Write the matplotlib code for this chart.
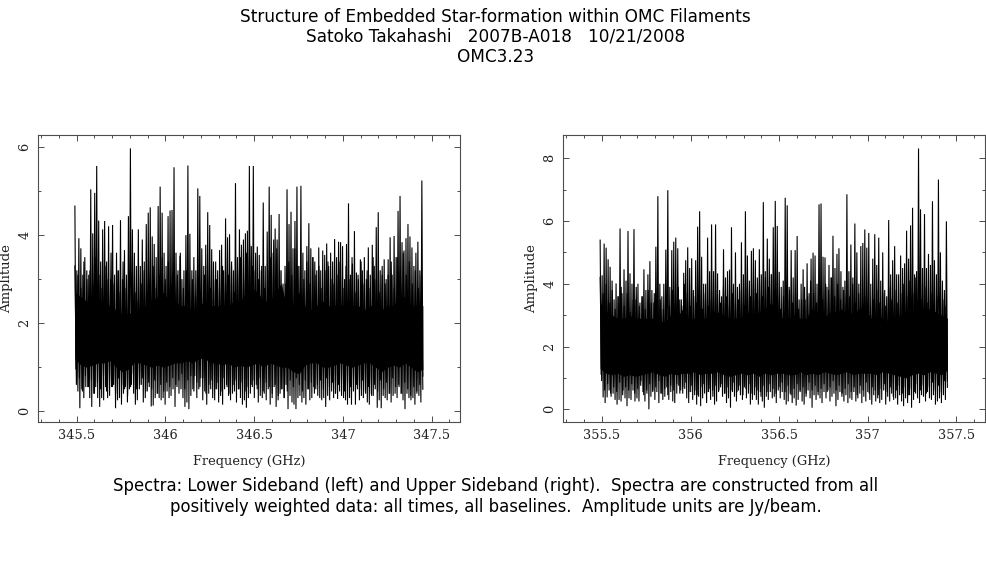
#!/usr/bin/env python
"""LSB and USB amplitude spectra for OMC3.23, read off the archived plot."""
import matplotlib
matplotlib.use("Agg")
import matplotlib.pyplot as plt
from matplotlib.ticker import MultipleLocator, FixedLocator, FixedFormatter
import numpy as np

W, H = 987, 567

title_lines = [
    "Structure of Embedded Star-formation within OMC Filaments",
    "Satoko Takahashi   2007B-A018   10/21/2008",
    "OMC3.23",
]
caption_lines = [
    "Spectra: Lower Sideband (left) and Upper Sideband (right).  Spectra are constructed from all",
    "positively weighted data: all times, all baselines.  Amplitude units are Jy/beam.",
]

# alternating channel peaks and troughs, read every ~2 px
lsb_hi = [
    4.66, 3.2, 3.93, 3.7, 3.1, 3.5, 3.2, 3.1, 5.04, 4.04, 4.96, 5.57, 4.33, 3.4, 4.13, 4.32,
    3.4, 4.2, 3.0, 4.23, 3.1, 3.6, 3.2, 4.34, 3.0, 3.66, 3.1, 4.43, 5.97, 4.13, 3.6, 3.3,
    4.13, 3.3, 3.9, 3.4, 4.25, 4.51, 4.63, 3.97, 3.8, 3.5, 4.66, 5.1, 4.51, 3.6, 3.3, 4.43,
    4.56, 4.57, 5.54, 3.6, 3.2, 3.53, 3.0, 3.2, 4.0, 5.58, 4.03, 3.2, 3.5, 3.2, 5.06, 4.89,
    3.7, 3.3, 3.78, 4.52, 4.23, 3.68, 3.0, 3.4, 3.2, 3.66, 3.78, 3.2, 4.38, 3.95, 4.02, 3.3,
    3.2, 5.18, 3.5, 4.13, 3.78, 3.9, 4.04, 4.1, 5.57, 3.75, 5.57, 3.2, 3.74, 3.55, 3.2, 4.74,
    3.3, 4.08, 5.1, 4.46, 3.6, 4.15, 3.9, 4.48, 3.2, 2.9, 3.3, 5.04, 4.25, 4.53, 3.7, 4.32,
    5.1, 3.3, 5.12, 3.6, 3.2, 3.75, 4.27, 3.7, 3.5, 3.4, 3.2, 3.72, 3.2, 3.65, 3.55, 3.81,
    3.3, 3.6, 3.4, 3.91, 3.5, 3.85, 3.84, 3.75, 3.0, 3.8, 4.72, 3.1, 3.35, 4.09, 3.15, 3.0,
    3.45, 3.2, 3.5, 3.0, 3.72, 3.1, 3.78, 3.3, 4.18, 4.52, 3.2, 3.1, 3.45, 3.0, 3.45, 3.95,
    3.1, 3.98, 3.5, 4.55, 4.89, 3.84, 3.65, 3.93, 4.25, 3.97, 3.72, 3.3, 3.6, 3.85, 3.2, 5.24,
]
lsb_lo = [
    0.95, 0.45, 0.07, 0.5, 0.3, 0.55, 0.55, 0.3, 0.1, 0.4, 0.55, 0.3, 0.1, 0.3, 0.25, 0.55,
    0.3, 0.35, 0.55, 0.6, 0.07, 0.25, 0.3, 0.15, 0.4, 0.55, 0.2, 0.5, 0.6, 0.85, 0.15, 0.25,
    0.5, 0.6, 0.2, 0.3, 0.45, 0.55, 0.11, 0.13, 0.3, 0.4, 0.3, 0.25, 0.3, 0.15, 0.45, 0.3,
    0.35, 0.5, 0.1, 0.55, 0.4, 0.5, 0.3, 0.1, 0.2, 0.05, 0.35, 0.5, 0.8, 0.3, 0.5, 0.75,
    0.25, 0.45, 0.15, 0.4, 0.5, 0.3, 0.25, 0.5, 0.2, 0.35, 0.15, 0.5, 0.6, 0.35, 0.25, 0.4,
    0.45, 0.2, 0.5, 0.3, 0.15, 0.25, 0.08, 0.3, 0.4, 0.55, 0.3, 0.6, 0.2, 0.35, 0.3, 0.4,
    0.25, 0.5, 0.15, 0.3, 0.55, 0.1, 0.25, 0.4, 0.5, 0.3, 0.6, 0.05, 0.35, 0.2, 0.15, 0.05,
    0.3, 0.35, 0.2, 0.3, 0.15, 0.5, 0.25, 0.3, 0.55, 0.5, 0.35, 0.3, 0.25, 0.3, 0.1, 0.35,
    0.25, 0.45, 0.3, 0.4, 0.28, 0.45, 0.35, 0.3, 0.25, 0.15, 0.3, 0.15, 0.45, 0.15, 0.5, 0.25,
    0.35, 0.3, 0.45, 0.2, 0.15, 0.4, 0.35, 0.5, 0.08, 0.25, 0.07, 0.35, 0.3, 0.25, 0.4, 0.2,
    0.35, 0.4, 0.3, 0.55, 0.4, 0.25, 0.05, 0.4, 0.3, 0.25, 0.3, 0.15, 0.4, 0.35, 0.2, 0.8,
]
usb_hi = [
    5.39, 4.27, 5.28, 5.15, 4.78, 4.54, 4.1, 3.5, 4.01, 3.6, 5.76, 3.7, 4.46, 4.1, 5.68, 4.33,
    4.0, 5.74, 3.5, 4.0, 3.4, 3.6, 4.46, 3.8, 4.3, 4.72, 3.8, 3.4, 5.18, 6.79, 4.0, 3.6,
    4.0, 5.09, 6.98, 3.9, 5.07, 5.34, 5.47, 5.13, 3.5, 3.3, 4.35, 4.75, 5.16, 4.5, 4.81, 3.6,
    4.75, 5.82, 6.31, 4.86, 4.0, 4.0, 5.47, 4.4, 5.89, 4.4, 5.89, 4.33, 3.8, 3.6, 5.1, 4.2,
    4.4, 4.45, 5.8, 4.0, 5.0, 3.9, 4.0, 5.32, 4.3, 6.31, 4.9, 4.1, 5.05, 5.13, 4.75, 4.2,
    5.1, 4.3, 6.6, 4.4, 5.44, 4.8, 4.3, 5.8, 6.64, 5.84, 4.38, 3.9, 4.1, 6.74, 6.5, 3.9,
    5.07, 4.2, 5.07, 5.52, 3.5, 4.0, 4.46, 3.5, 4.65, 3.7, 4.8, 4.99, 4.9, 4.0, 6.53, 6.56,
    4.86, 4.84, 3.9, 4.6, 4.2, 5.53, 4.5, 4.95, 5.13, 4.4, 3.9, 4.1, 6.85, 4.4, 5.25, 4.2,
    5.92, 5.0, 4.0, 5.2, 5.3, 5.73, 5.15, 5.62, 4.0, 4.8, 5.58, 4.6, 5.47, 4.1, 5.0, 3.8,
    3.6, 6.03, 4.3, 4.75, 5.2, 4.3, 4.3, 4.9, 4.5, 4.65, 5.69, 4.8, 5.86, 6.42, 4.3, 4.4,
    8.31, 6.37, 4.5, 6.22, 4.5, 4.95, 4.6, 6.63, 4.75, 4.3, 7.32, 5.0, 4.1, 3.8, 5.99,
]
usb_lo = [
    1.1, 0.38, 0.2, 0.38, 0.6, 0.4, 0.5, 0.3, 0.15, 0.3, 0.25, 0.6, 0.35, 0.1, 0.35, 0.3,
    0.6, 0.25, 0.35, 0.25, 0.9, 0.55, 0.25, 0.5, 0.0, 0.4, 0.6, 0.3, 0.55, 0.2, 0.5, 0.3,
    0.4, 0.7, 0.3, 0.55, 0.25, 0.2, 0.5, 0.75, 0.6, 0.5, 0.65, 0.35, 0.2, 0.55, 0.3, 0.45,
    0.15, 0.4, 0.1, 0.35, 0.5, 0.2, 0.55, 0.3, 0.6, 0.15, 0.25, 0.55, 0.7, 0.4, 0.5, 0.2,
    0.35, 0.05, 0.55, 0.4, 0.25, 0.6, 0.45, 0.3, 0.7, 0.35, 0.5, 0.15, 0.3, 0.45, 0.3, 0.15,
    0.55, 0.25, 0.05, 0.4, 0.3, 0.55, 0.35, 0.4, 0.2, 0.6, 0.35, 0.55, 0.3, 0.15, 0.25, 0.5,
    0.2, 0.35, 0.12, 0.3, 0.55, 0.25, 0.15, 0.4, 0.6, 0.35, 0.05, 0.45, 0.3, 0.55, 0.35, 0.2,
    0.55, 0.35, 0.6, 0.25, 0.4, 0.5, 0.1, 0.3, 0.55, 0.4, 0.25, 0.45, 0.2, 0.35, 0.3, 0.55,
    0.25, 0.35, 0.5, 0.2, 0.4, 0.25, 0.55, 0.3, 0.15, 0.45, 0.25, 0.35, 0.2, 0.3, 0.6, 0.15,
    0.4, 0.25, 0.5, 0.3, 0.35, 0.15, 0.45, 0.25, 0.1, 0.35, 0.2, 0.45, 0.05, 0.3, 0.5, 0.35,
    0.2, 0.45, 0.4, 0.25, 0.55, 0.35, 0.3, 0.45, 0.15, 0.25, 0.35, 0.2, 0.45, 0.3, 0.9,
]

# secondary channels below the spikes, read every ~3 px
lsb_mid_hi = [
    3.3, 3.1, 2.8, 3.4, 3.0, 3.2, 2.9, 3.5, 3.1, 2.8, 3.3, 3.0, 3.6, 2.9, 3.2, 2.7, 3.4, 2.8, 2.6, 3.0,
    2.7, 2.5, 2.9, 3.2, 2.6, 3.0, 3.3, 2.8, 3.1, 3.5, 3.0, 3.4, 2.9, 3.3, 3.1, 3.6, 2.8, 3.2, 2.7, 3.0,
    2.6, 2.9, 2.7, 3.1, 3.3, 2.8, 3.4, 3.0, 2.8, 3.3, 2.9, 3.1, 3.4, 2.7, 3.2, 3.5, 3.0, 3.6, 3.8, 3.3,
    3.6, 3.0, 3.3, 2.8, 3.2, 3.5, 3.9, 3.7, 3.2, 2.6, 2.9, 3.4, 3.1, 3.7, 3.3, 2.8, 3.0, 3.4, 2.9, 3.5,
    3.1, 3.3, 2.8, 3.2, 3.4, 3.0, 2.9, 3.1, 3.4, 2.8, 3.3, 3.0, 3.5, 2.7, 3.1, 3.4, 2.9, 3.2, 2.8, 3.5,
    3.0, 2.7, 3.3, 2.9, 3.1, 3.4, 2.8, 3.5, 3.2, 3.6, 3.1, 3.4, 2.9, 3.2, 2.8, 3.1,
]
lsb_mid_lo = [
    0.6, 0.75, 0.45, 0.8, 0.55, 0.7, 0.4, 0.65, 0.5, 0.8, 0.45, 0.7, 0.55, 0.4, 0.75, 0.6, 0.5, 0.35, 0.55, 0.4,
    0.5, 0.6, 0.75, 0.45, 0.65, 0.5, 0.7, 0.4, 0.6, 0.45, 0.65, 0.55, 0.75, 0.6, 0.7, 0.85, 0.5, 0.7, 0.8, 0.45,
    0.65, 0.55, 0.75, 0.4, 0.6, 0.7, 0.5, 0.65, 0.45, 0.75, 0.55, 0.4, 0.6, 0.7, 0.5, 0.65, 0.45, 0.55, 0.6, 0.7,
    0.5, 0.75, 0.45, 0.65, 0.55, 0.4, 0.6, 0.35, 0.5, 0.3, 0.45, 0.7, 0.55, 0.75, 0.6, 0.45, 0.7, 0.5, 0.65, 0.4,
    0.6, 0.7, 0.5, 0.75, 0.55, 0.65, 0.4, 0.6, 0.7, 0.45, 0.65, 0.55, 0.75, 0.6, 0.5, 0.7, 0.4, 0.55, 0.35, 0.6,
    0.45, 0.7, 0.5, 0.65, 0.4, 0.75, 0.55, 0.6, 0.4, 0.65, 0.5, 0.35, 0.55, 0.45, 0.6, 0.5,
]
usb_mid_hi = [
    4.2, 3.7, 4.0, 3.4, 3.8, 3.2, 3.6, 3.9, 3.3, 3.7, 3.1, 3.5, 3.9, 3.3, 3.6, 3.2, 3.8, 3.4, 3.7, 3.1,
    3.5, 3.2, 3.6, 3.3, 3.8, 3.4, 3.9, 3.5, 4.0, 3.7, 3.3, 3.8, 3.4, 3.6, 3.2, 3.7, 3.3, 3.5, 3.1, 3.8,
    3.4, 3.9, 3.6, 3.3, 3.7, 3.4, 3.5, 3.8, 3.3, 3.9, 3.6, 4.0, 3.7, 4.1, 3.6, 4.2, 3.9, 4.3, 3.8, 3.5,
    3.2, 3.6, 3.3, 3.8, 3.4, 3.7, 3.2, 3.5, 3.9, 3.6, 4.1, 3.7, 3.4, 3.8, 3.5, 4.0, 3.8, 4.2, 3.6, 4.0,
    3.5, 3.8, 4.1, 3.6, 4.0, 3.4, 3.7, 3.2, 3.6, 3.3, 3.0, 3.5, 3.8, 3.4, 3.7, 3.3, 3.9, 3.5, 3.8, 3.4,
    3.7, 4.0, 3.6, 4.1, 3.7, 4.2, 3.8, 3.5, 3.9, 3.4, 3.7, 3.3, 3.6, 3.2, 3.5, 3.3,
]
usb_mid_lo = [
    0.9, 0.6, 0.8, 0.5, 0.7, 0.55, 0.85, 0.45, 0.7, 0.6, 0.8, 0.5, 0.65, 0.75, 0.45, 0.6, 0.8, 0.55, 0.7, 0.9,
    0.5, 0.65, 0.45, 0.75, 0.6, 0.8, 0.5, 0.7, 0.85, 0.55, 0.75, 0.6, 0.45, 0.7, 0.8, 0.55, 0.65, 0.4, 0.75, 0.6,
    0.8, 0.5, 0.7, 0.6, 0.85, 0.55, 0.75, 0.45, 0.65, 0.8, 0.5, 0.7, 0.6, 0.4, 0.75, 0.55, 0.8, 0.65, 0.5, 0.7,
    0.85, 0.55, 0.75, 0.45, 0.65, 0.8, 0.6, 0.7, 0.5, 0.85, 0.6, 0.75, 0.45, 0.65, 0.8, 0.55, 0.7, 0.9, 0.6, 0.75,
    0.5, 0.65, 0.8, 0.55, 0.7, 0.45, 0.75, 0.6, 0.85, 0.5, 0.7, 0.6, 0.45, 0.65, 0.8, 0.55, 0.7, 0.4, 0.6, 0.75,
    0.5, 0.7, 0.45, 0.65, 0.55, 0.8, 0.6, 0.75, 0.5, 0.7, 0.85, 0.6, 0.75, 0.55, 0.9, 0.7,
]

# the band where channels overlap completely, read every ~6 px
lsb_core_top = [
    2.7, 2.6, 2.5, 2.5, 2.6, 2.4, 2.4, 2.3, 2.2, 2.2, 2.3, 2.3, 2.4, 2.5, 2.6,
    2.7, 2.5, 2.5, 2.4, 2.4, 2.3, 2.4, 2.5, 2.4, 2.4, 2.4, 2.4, 2.5, 2.5, 2.7,
    2.8, 2.7, 2.5, 2.5, 2.7, 2.9, 2.3, 2.4, 2.7, 2.4, 2.3, 2.4, 2.5, 2.4, 2.4,
    2.4, 2.4, 2.4, 2.4, 2.3, 2.4, 2.4, 2.3, 2.4, 2.4, 2.6, 2.6, 2.4, 2.4, 2.4,
]
lsb_core_bot = [
    1.2, 1.05, 1.0, 1.05, 1.1, 1.1, 1.15, 1.0, 0.9, 0.95, 1.1, 1.1, 1.05, 1.0, 1.05,
    1.0, 1.05, 1.1, 1.1, 1.15, 1.1, 1.2, 1.2, 1.1, 1.1, 1.05, 1.1, 1.0, 1.05, 1.0,
    1.05, 1.1, 1.0, 1.1, 1.05, 1.0, 1.0, 0.9, 0.85, 1.05, 1.1, 1.1, 1.0, 1.0, 1.05,
    1.1, 1.05, 1.0, 1.05, 1.1, 1.1, 1.0, 0.9, 1.0, 1.05, 1.0, 1.1, 1.0, 0.9, 0.95,
]
usb_core_top = [
    3.4, 3.1, 3.0, 2.9, 2.9, 3.0, 2.9, 2.9, 2.9, 2.9, 2.8, 2.8, 3.0, 2.9, 3.2,
    2.9, 2.9, 2.9, 2.9, 2.9, 3.1, 3.0, 2.9, 2.9, 2.9, 3.1, 3.0, 3.1, 3.2, 3.4,
    3.1, 2.9, 2.9, 3.0, 2.9, 2.9, 3.2, 3.0, 2.9, 3.1, 3.1, 3.2, 3.0, 3.1, 3.2,
    3.2, 2.9, 3.0, 2.9, 2.8, 2.9, 3.0, 3.0, 3.0, 3.0, 3.2, 3.2, 3.1, 3.0, 2.9,
]
usb_core_bot = [
    1.3, 1.15, 1.1, 1.15, 1.05, 1.1, 1.05, 1.1, 1.15, 1.2, 1.1, 1.05, 1.15, 1.1, 1.15,
    1.15, 1.2, 1.1, 1.15, 1.15, 1.2, 1.1, 1.05, 1.1, 1.15, 1.1, 1.15, 1.05, 1.15, 1.1,
    1.15, 1.15, 1.1, 1.1, 1.2, 1.1, 1.15, 1.1, 1.2, 1.15, 1.1, 1.15, 1.2, 1.1, 1.15,
    1.15, 1.15, 1.1, 1.2, 1.15, 1.1, 1.05, 1.0, 1.1, 1.15, 1.1, 1.2, 1.15, 1.1, 1.25,
]

lsb_span = (345.49, 347.45)
usb_span = (355.49, 357.45)
lsb_xticks = [345.5, 346, 346.5, 347, 347.5]
usb_xticks = [355.5, 356, 356.5, 357, 357.5]
xtick_labels_lsb = ["345.5", "346", "346.5", "347", "347.5"]
xtick_labels_usb = ["355.5", "356", "356.5", "357", "357.5"]
lsb_yticks = [0, 2, 4, 6]
usb_yticks = [0, 2, 4, 6, 8]

FRAME = "#4d4d4d"
SERIF = "DejaVu Serif"


def zigzag(ax, span, hi, lo):
    y = np.column_stack([hi, lo]).ravel()
    x = np.linspace(span[0], span[1], y.size)
    ax.plot(x, y, color="black", lw=0.8, solid_joinstyle="miter")


def spectrum(ax, span, hi, lo, mid_hi, mid_lo, core_top, core_bot):
    zigzag(ax, span, hi, lo)
    zigzag(ax, span, mid_hi, mid_lo)
    xc = np.linspace(span[0], span[1], len(core_top))
    ax.fill_between(xc, core_bot, core_top, color="black", lw=0)


def dress(ax, xlim, ylim, xticks, xlabels, yticks):
    ax.set_xlim(*xlim)
    ax.set_ylim(*ylim)
    ax.xaxis.set_major_locator(FixedLocator(xticks))
    ax.xaxis.set_major_formatter(FixedFormatter(xlabels))
    ax.xaxis.set_minor_locator(MultipleLocator(0.1))
    ax.yaxis.set_major_locator(FixedLocator(yticks))
    ax.yaxis.set_minor_locator(MultipleLocator(1))
    ax.tick_params(which="major", direction="in", top=True, right=True, length=4.5,
                   width=0.7, color=FRAME, labelsize=9.3, labelcolor="#222222")
    ax.tick_params(which="minor", direction="in", top=True, right=True, length=2.2,
                   width=0.7, color=FRAME)
    ax.tick_params(axis="x", which="major", pad=5)
    ax.tick_params(axis="y", which="major", pad=5)
    for lab in ax.get_xticklabels() + ax.get_yticklabels():
        lab.set_family(SERIF)
    for lab in ax.get_yticklabels():
        lab.set_rotation(90)
        lab.set_va("center")
    for s in ax.spines.values():
        s.set_color(FRAME)
        s.set_linewidth(0.8)
    ax.set_xlabel("Frequency (GHz)", family=SERIF, fontsize=9.3, color="#222222", labelpad=9)
    ax.set_ylabel("Amplitude", family=SERIF, fontsize=9.5, color="#222222")


def box(left, top, right, bottom):
    return [left / W, 1 - bottom / H, (right - left) / W, (bottom - top) / H]


fig = plt.figure(figsize=(W / 100, H / 100), dpi=100)

ax1 = fig.add_axes(box(38.5, 135.3, 460.3, 422.3))
spectrum(ax1, lsb_span, lsb_hi, lsb_lo, lsb_mid_hi, lsb_mid_lo, lsb_core_top, lsb_core_bot)
dress(ax1, (345.285, 347.661), (-0.25, 6.266), lsb_xticks, xtick_labels_lsb, lsb_yticks)
ax1.yaxis.set_label_coords((13 - 38.5) / 421.8, 0.5)

ax2 = fig.add_axes(box(563.3, 135.3, 985.3, 422.3))
spectrum(ax2, usb_span, usb_hi, usb_lo, usb_mid_hi, usb_mid_lo, usb_core_top, usb_core_bot)
dress(ax2, (355.282, 357.664), (-0.414, 8.73), usb_xticks, xtick_labels_usb, usb_yticks)
ax2.yaxis.set_label_coords((538 - 563.3) / 422, 0.5)

for text, ypx in zip(title_lines, [16.5, 36.5, 57]):
    fig.text(495.5 / W, 1 - ypx / H, text, ha="center", va="center", fontsize=12.15, color="black")
for text, ypx in zip(caption_lines, [486, 506.5]):
    fig.text(495.5 / W, 1 - ypx / H, text, ha="center", va="center", fontsize=11.93, color="black")

fig.savefig("out.png", dpi=100)
